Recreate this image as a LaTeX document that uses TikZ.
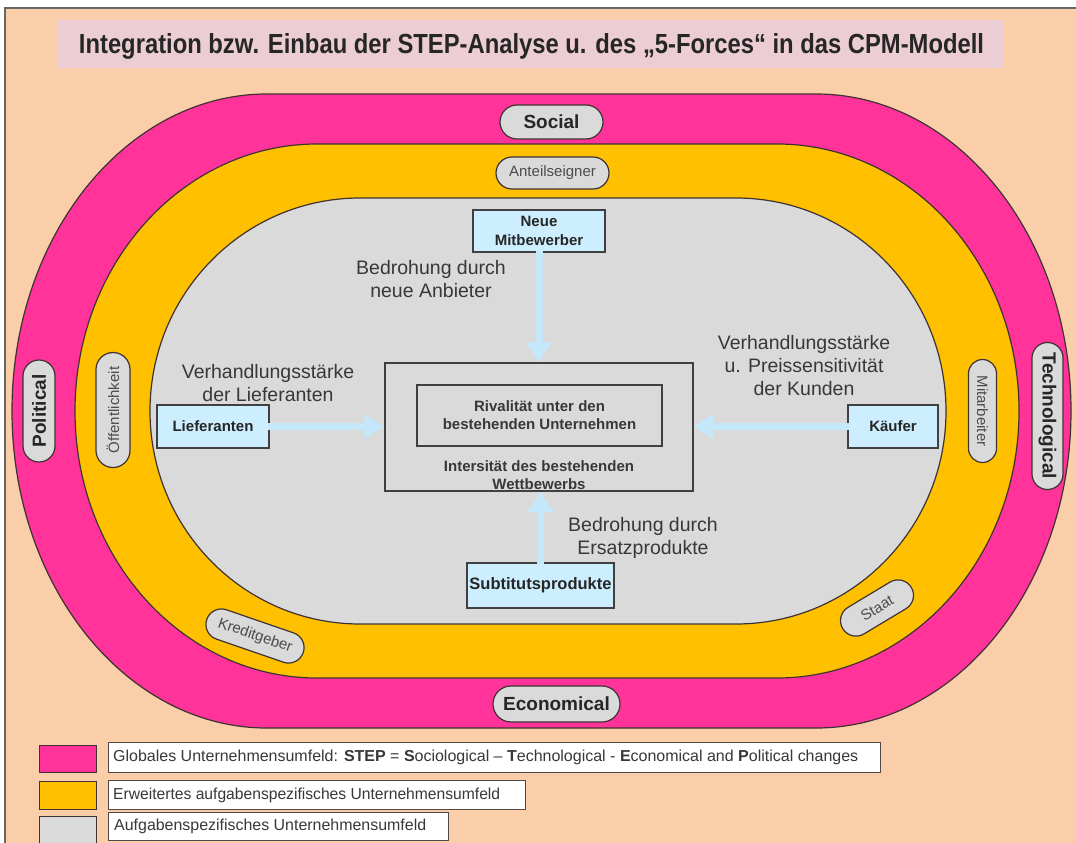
\documentclass[tikz,border=0pt]{standalone}
\usepackage{fontspec}
\setmainfont{Liberation Sans}
\usepackage{graphicx}
\usetikzlibrary{shapes.misc,arrows.meta}

\definecolor{peach}{HTML}{FACEA8}
\definecolor{titlebg}{HTML}{EBCDD3}
\definecolor{stepmagenta}{HTML}{FF3399}
\definecolor{taskorange}{HTML}{FFC000}
\definecolor{taskgray}{HTML}{DADADA}
\definecolor{forceblue}{HTML}{CCEEFF}
\definecolor{arrowblue}{HTML}{C4E8FA}
\definecolor{outline}{HTML}{3F3232}
\definecolor{txt}{HTML}{383838}

\begin{document}
\begin{tikzpicture}[x=1pt,y=-1pt,
  band/.style={draw=outline, line width=1.2pt},
  pill/.style={rounded rectangle, draw=outline, line width=1.2pt, fill=taskgray, inner sep=0pt},
  steplabel/.style={pill, font=\fontsize{19}{22}\selectfont\bfseries, text=black!85},
  stakeholder/.style={pill, font=\fontsize{15}{18}\selectfont, text=black!70},
  force/.style={draw=black!75, line width=1.3pt, fill=forceblue, inner sep=0pt, align=center,
                font=\fontsize{15}{19}\selectfont\bfseries, text=black!85},
  note/.style={align=center, font=\fontsize{19.5}{23}\selectfont, text=txt},
  push/.style={draw=arrowblue, line width=7pt, -{Triangle[length=20pt,width=24pt]}},
  legendkey/.style={draw=outline, line width=1.4pt, inner sep=0pt, anchor=north west},
  legendbox/.style={draw=outline!90, line width=1.2pt, fill=white, inner sep=0pt, anchor=north west},
  legendtext/.style={anchor=west, inner sep=0pt, text=txt},
]
\useasboundingbox (0,0) rectangle (1076,843);

% page background with framed edge
\fill[white] (0,0) rectangle (1076,843);
\fill[peach] (5,8) rectangle (1076,843);
\draw[black!60, line width=1.5pt] (5,843) -- (5,8) -- (1076,8);

% heading
\node[fill=titlebg, minimum width=945, minimum height=48, inner sep=0pt] (titlebox) at (530.5,44) {};
\node[anchor=base, inner sep=0pt, text=black!85] (title) at (531.5,54)
  {\resizebox{905pt}{20pt}{\bfseries Integration bzw. Einbau der STEP-Analyse u. des „5-Forces“ in das CPM-Modell}};

% global environment (STEP)
\filldraw[band, fill=stepmagenta]
  (267,94) -- (816,94)
  .. controls (956.8,94) and (1071,235.9) .. (1071,411)
  .. controls (1071,586.1) and (956.8,728) .. (816,728)
  -- (267,728)
  .. controls (126.2,728) and (12,586.1) .. (12,411)
  .. controls (12,235.9) and (126.2,94) .. (267,94) -- cycle;

% extended task environment
\filldraw[band, fill=taskorange]
  (317,144) -- (777,144)
  .. controls (910.7,144) and (1019,263.5) .. (1019,411)
  .. controls (1019,558.5) and (910.7,678) .. (777,678)
  -- (317,678)
  .. controls (183.3,678) and (75,558.5) .. (75,411)
  .. controls (75,263.5) and (183.3,144) .. (317,144) -- cycle;

% task environment
\filldraw[band, fill=taskgray]
  (360,198) -- (736,198)
  .. controls (852,198) and (946,293.4) .. (946,411)
  .. controls (946,528.6) and (852,624) .. (736,624)
  -- (360,624)
  .. controls (244,624) and (150,528.6) .. (150,411)
  .. controls (150,293.4) and (244,198) .. (360,198) -- cycle;

% STEP factors
\node[steplabel, minimum width=103, minimum height=34] (social) at (551.5,122) {Social};
\node[steplabel, minimum width=127, minimum height=36] (economical) at (556.5,704) {Economical};
\node[steplabel, rotate=90, minimum width=102, minimum height=32] (political) at (39,411) {Political};
\node[steplabel, rotate=-90, minimum width=147, minimum height=31] (technological) at (1047.5,416) {Technological};

% stakeholders
\node[stakeholder, minimum width=113, minimum height=32] (shareholders) at (552.5,173) {Anteilseigner};
\node[stakeholder, rotate=90, minimum width=115, minimum height=34] (public) at (113,410) {Öffentlichkeit};
\node[stakeholder, rotate=-90, minimum width=103, minimum height=28] (staff) at (982.5,411) {Mitarbeiter};
\node[stakeholder, rotate=-19, minimum width=102, minimum height=31] (lenders) at (255,636) {Kreditgeber};
\node[stakeholder, rotate=31, minimum width=80, minimum height=31] (state) at (877,608) {Staat};

% five forces
\node[force, minimum width=132, minimum height=42] (entrants) at (539,231) {Neue\\Mitbewerber};
\node[force, minimum width=112, minimum height=43] (suppliers) at (213,426.5) {Lieferanten};
\node[force, minimum width=90, minimum height=43] (buyers) at (893,426.5) {Käufer};
\node[force, minimum width=147, minimum height=45, font=\fontsize{16.5}{19}\selectfont\bfseries] (substitutes) at (540.5,585.5) {Subtitutsprodukte};

\node[draw=black!75, line width=1.5pt, minimum width=308, minimum height=128, inner sep=0pt] (rivalry) at (539,427) {};
\node[draw=black!75, line width=1.5pt, minimum width=245, minimum height=61, inner sep=0pt, align=center,
      font=\fontsize{15}{18}\selectfont\bfseries, text=txt] (rivals) at (539.5,415.5)
  {Rivalität unter den\\bestehenden Unternehmen};
\node[align=center, inner sep=0pt, font=\fontsize{15}{18}\selectfont\bfseries, text=txt] (intensity) at (539,475)
  {Intersität des bestehenden\\Wettbewerbs};

% force labels
\node[note] (newthreat) at (431,279) {Bedrohung durch\\neue Anbieter};
\node[note] (supplierpower) at (268,383) {Verhandlungsstärke\\der Lieferanten};
\node[note] (buyerpower) at (804,366) {Verhandlungsstärke\\u. Preissensitivität\\der Kunden};
\node[note] (substthreat) at (643,538) {Bedrohung durch\\Ersatzprodukte};

% pressure arrows towards the rivalry box
\draw[push] ([yshift=2pt]entrants.south) -- (entrants.south |- rivalry.north);
\draw[push] ([xshift=-2pt]suppliers.east) -- (suppliers.east -| rivalry.west);
\draw[push] ([xshift=2pt]buyers.west) -- (buyers.west -| rivalry.east);
\draw[push] ([yshift=-2pt]substitutes.north) -- (substitutes.north |- rivalry.south);

% legend
\node[legendkey, fill=stepmagenta, minimum width=57, minimum height=27] (keystep) at (39,745) {};
\node[legendbox, minimum width=772, minimum height=30] (boxstep) at (108,742) {};
\node[legendtext] (legstep) at (113,757)
  {\resizebox{745pt}{11.5pt}{Globales Unternehmensumfeld: \textbf{STEP} = \textbf{S}ociological – \textbf{T}echnological - \textbf{E}conomical and \textbf{P}olitical changes}};

\node[legendkey, fill=taskorange, minimum width=57, minimum height=28] (keyext) at (39,781) {};
\node[legendbox, minimum width=417, minimum height=29] (boxext) at (108,780) {};
\node[legendtext] (legext) at (113,795)
  {\resizebox{387pt}{11.5pt}{Erweitertes aufgabenspezifisches Unternehmensumfeld}};

\node[legendkey, fill=taskgray, minimum width=57, minimum height=28] (keytask) at (39,816) {};
\node[legendbox, minimum width=340, minimum height=28] (boxtask) at (108,812) {};
\node[legendtext] (legtask) at (114,826)
  {\resizebox{312pt}{11.5pt}{Aufgabenspezifisches Unternehmensumfeld}};
\end{tikzpicture}
\end{document}
